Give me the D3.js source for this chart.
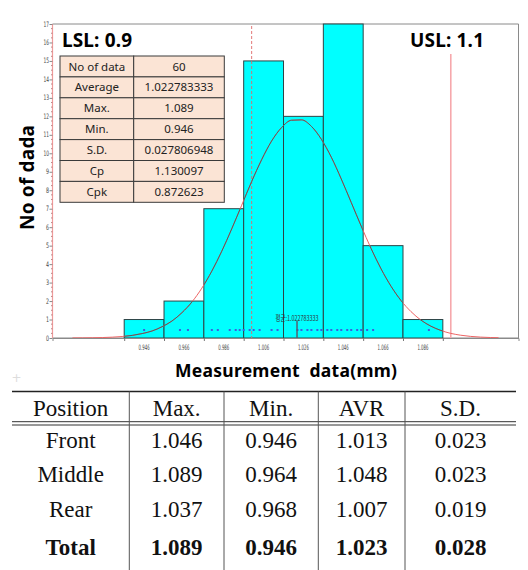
<!DOCTYPE html>
<html>
<head>
<meta charset="utf-8">
<script src="https://cdn.jsdelivr.net/npm/d3@7"></script>
<style>
  body { margin: 0; background: #fff; }
  svg { display: block; }
</style>
</head>
<body>
<script>
// histogram bins (bin edges) and counts
var binEdges = [0.936, 0.956, 0.976, 0.996, 1.016, 1.036, 1.056, 1.076, 1.096];
var counts = [1, 2, 7, 15, 12, 17, 5, 1];
var tickValues = [0.946, 0.966, 0.986, 1.006, 1.026, 1.046, 1.066, 1.086];

// individual measurements shown as dots (distinct values)
var dotValues = [0.946, 0.964, 0.968, 0.980, 0.983, 0.989, 0.992, 0.994, 0.996, 0.999,
  1.001, 1.004, 1.010, 1.013, 1.023, 1.025, 1.028, 1.030, 1.033, 1.035, 1.038, 1.040,
  1.043, 1.045, 1.048, 1.050, 1.053, 1.055, 1.058, 1.061, 1.089];

// fitted curve
var curveX = [0.910, 0.915, 0.920, 0.925, 0.930, 0.935, 0.940, 0.945, 0.950, 0.955, 0.960,
  0.965, 0.970, 0.975, 0.980, 0.985, 0.990, 0.995, 1.000, 1.005, 1.010, 1.015, 1.020,
  1.025, 1.030, 1.035, 1.040, 1.045, 1.050, 1.055, 1.060, 1.065, 1.070, 1.075, 1.080,
  1.085, 1.090, 1.095, 1.100, 1.105, 1.110, 1.115, 1.120, 1.124];
var curveY = [0.003, 0.006, 0.013, 0.024, 0.045, 0.08, 0.14, 0.24, 0.38, 0.61, 0.92,
  1.37, 1.95, 2.70, 3.62, 4.70, 5.91, 7.19, 8.47, 9.65, 10.66, 11.39, 11.79,
  11.81, 11.46, 10.76, 9.79, 8.61, 7.34, 6.06, 4.84, 3.74, 2.80, 2.03, 1.43,
  0.97, 0.64, 0.41, 0.25, 0.15, 0.086, 0.048, 0.026, 0.015];

var lsl = 0.9, usl = 1.1, nominal = 1.0, mean = 1.022783333;

var statLabels = ["No of data", "Average", "Max.", "Min.", "S.D.", "Cp", "Cpk"];
var statValues = ["60", "1.022783333", "1.089", "0.946", "0.027806948", "1.130097", "0.872623"];

var tableHeader = ["Position", "Max.", "Min.", "AVR", "S.D."];
var positions = ["Front", "Middle", "Rear", "Total"];
var maxVals = ["1.046", "1.089", "1.037", "1.089"];
var minVals = ["0.946", "0.964", "0.968", "0.946"];
var avrVals = ["1.013", "1.048", "1.007", "1.023"];
var sdVals = ["0.023", "0.023", "0.019", "0.028"];

var w = 528, h = 570;
var pLeft = 52.5, pRight = 518.5, pTop = 24, pBottom = 338;

var svg = d3.select("body").append("svg")
  .attr("width", w)
  .attr("height", h);

var xScale = d3.scaleLinear().domain([0.9, 1.134]).range([pLeft, pRight]);
var yScale = d3.scaleLinear().domain([0, 17]).range([pBottom, pTop]);

// frame
svg.append("path")
  .attr("d", "M" + pLeft + "," + pTop + "H" + pRight + "V" + pBottom + "H" + pLeft)
  .attr("fill", "none")
  .attr("stroke", "#8a8a8a")
  .attr("stroke-width", 1);

// bars
var bins = counts.map(function(c, i) { return { x0: binEdges[i], x1: binEdges[i + 1], n: c }; });

svg.append("defs").append("clipPath").attr("id", "barclip")
  .selectAll("rect").data(bins).enter().append("rect")
  .attr("x", function(d) { return xScale(d.x0); })
  .attr("y", function(d) { return yScale(d.n); })
  .attr("width", function(d) { return xScale(d.x1) - xScale(d.x0); })
  .attr("height", function(d) { return yScale(0) - yScale(d.n); });

svg.selectAll("rect.bar").data(bins).enter().append("rect")
  .attr("class", "bar")
  .attr("x", function(d) { return xScale(d.x0); })
  .attr("y", function(d) { return yScale(d.n); })
  .attr("width", function(d) { return xScale(d.x1) - xScale(d.x0); })
  .attr("height", function(d) { return yScale(0) - yScale(d.n); })
  .attr("fill", "#00ffff")
  .attr("stroke", "#2e4446")
  .attr("stroke-width", 1);

// spec lines
svg.append("line")
  .attr("x1", xScale(lsl)).attr("x2", xScale(lsl))
  .attr("y1", pTop).attr("y2", pBottom)
  .attr("stroke", "#f09a9a").attr("stroke-width", 1.2);
svg.append("line")
  .attr("x1", xScale(usl)).attr("x2", xScale(usl))
  .attr("y1", 54).attr("y2", pBottom)
  .attr("stroke", "#f6a8ac").attr("stroke-width", 1.6);
svg.append("line")
  .attr("x1", xScale(nominal)).attr("x2", xScale(nominal))
  .attr("y1", pTop + 2).attr("y2", pBottom)
  .attr("stroke", "#e06a6a").attr("stroke-width", 0.9)
  .attr("stroke-dasharray", "3,2");

// fitted curve: red outside bars, dark inside
var pts = curveX.map(function(v, i) { return [v, curveY[i]]; });
var line = d3.line()
  .x(function(d) { return xScale(d[0]); })
  .y(function(d) { return yScale(d[1]); })
  .curve(d3.curveMonotoneX);
svg.append("path").datum(pts)
  .attr("d", line)
  .attr("fill", "none")
  .attr("stroke", "#ee6464")
  .attr("stroke-width", 1);
svg.append("path").datum(pts)
  .attr("d", line)
  .attr("fill", "none")
  .attr("stroke", "#4f5f60")
  .attr("stroke-width", 1)
  .attr("clip-path", "url(#barclip)");

// data dots
svg.selectAll("rect.dot").data(dotValues).enter().append("rect")
  .attr("class", "dot")
  .attr("x", function(d) { return xScale(d) - 1; })
  .attr("y", 329)
  .attr("width", 2).attr("height", 2)
  .attr("fill", "#3a5ee0");

// mean marker
svg.append("line")
  .attr("x1", xScale(mean)).attr("x2", xScale(mean))
  .attr("y1", 321).attr("y2", pBottom)
  .attr("stroke", "#556070").attr("stroke-width", 1.5);
svg.append("text")
  .attr("x", xScale(mean)).attr("y", 320.5)
  .attr("text-anchor", "middle")
  .attr("font-family", "'Noto Sans CJK KR', sans-serif")
  .attr("font-size", 7.5)
  .attr("textLength", 43)
  .attr("lengthAdjust", "spacingAndGlyphs")
  .attr("fill", "#333")
  .text("평균:" + mean);

// x axis ticks and labels
var xAxis = d3.axisBottom(xScale).tickValues(binEdges).tickSize(3).tickFormat("");
var gx = svg.append("g")
  .attr("transform", "translate(0," + pBottom + ")")
  .call(xAxis);
gx.select(".domain").attr("stroke", "#8a8a8a");
gx.selectAll(".tick line").attr("stroke", "#777");

svg.selectAll("text.xlab").data(tickValues).enter().append("text")
  .attr("class", "xlab")
  .attr("x", function(d) { return xScale(d); })
  .attr("y", 350)
  .attr("text-anchor", "middle")
  .attr("font-family", "'DejaVu Sans', sans-serif")
  .attr("font-size", 7.5)
  .attr("textLength", 11)
  .attr("lengthAdjust", "spacingAndGlyphs")
  .attr("fill", "#444")
  .text(d3.format(".3f"));

// y axis
var yAxis = d3.axisLeft(yScale).ticks(17).tickSize(3).tickFormat("");
var gy = svg.append("g")
  .attr("transform", "translate(" + pLeft + ",0)")
  .call(yAxis);
gy.select(".domain").remove();
gy.selectAll(".tick line").attr("stroke", "#888");

var minor = d3.range(0, 17, 0.25).filter(function(d) { return d % 1 !== 0; });
svg.selectAll("line.minor").data(minor).enter().append("line")
  .attr("class", "minor")
  .attr("x1", pLeft - 1.5).attr("x2", pLeft)
  .attr("y1", function(d) { return yScale(d); })
  .attr("y2", function(d) { return yScale(d); })
  .attr("stroke", "#b88");

svg.selectAll("text.ylab").data(yScale.ticks(17)).enter().append("text")
  .attr("class", "ylab")
  .attr("x", pLeft - 3.5)
  .attr("y", function(d) { return yScale(d) + 2.5; })
  .attr("text-anchor", "end")
  .attr("font-family", "'DejaVu Sans', sans-serif")
  .attr("font-size", 7.5)
  .attr("textLength", function(d) { return d < 10 ? 3 : 5.5; })
  .attr("lengthAdjust", "spacingAndGlyphs")
  .attr("fill", "#444")
  .text(function(d) { return d; });

// big labels
svg.append("text")
  .attr("x", 62).attr("y", 47)
  .attr("font-family", "'Noto Sans', sans-serif")
  .attr("font-weight", "bold")
  .attr("font-size", 19)
  .attr("textLength", 70)
  .attr("lengthAdjust", "spacing")
  .text("LSL: " + lsl);
svg.append("text")
  .attr("x", 410).attr("y", 47)
  .attr("font-family", "'Noto Sans', sans-serif")
  .attr("font-weight", "bold")
  .attr("font-size", 19)
  .attr("textLength", 74)
  .attr("lengthAdjust", "spacing")
  .text("USL: " + usl.toFixed(1));

svg.append("text")
  .attr("transform", "translate(34,230) rotate(-90)")
  .attr("font-family", "'Noto Sans', sans-serif")
  .attr("font-weight", "bold")
  .attr("font-size", 19)
  .attr("textLength", 105)
  .attr("lengthAdjust", "spacing")
  .text("No of dada");

svg.append("text")
  .attr("x", 175).attr("y", 377)
  .attr("font-family", "'Noto Sans', sans-serif")
  .attr("font-weight", "bold")
  .attr("font-size", 17.5)
  .attr("textLength", 222)
  .attr("lengthAdjust", "spacing")
  .style("white-space", "pre")
  .text("Measurement  data(mm)");

// stats box
var sx0 = 60, sx1 = 133.7, sx2 = 224.3, sy0 = 56, rowH = 20.9;
var sRows = svg.append("g").selectAll("g").data(statLabels).enter().append("g")
  .attr("transform", function(d, i) { return "translate(0," + (sy0 + i * rowH) + ")"; });
sRows.append("rect")
  .attr("x", sx0).attr("width", sx1 - sx0).attr("height", rowH)
  .attr("fill", "#fbe4d5").attr("stroke", "#3a3a3a").attr("stroke-width", 1);
sRows.append("rect")
  .attr("x", sx1).attr("width", sx2 - sx1).attr("height", rowH)
  .attr("fill", "#fbe4d5").attr("stroke", "#3a3a3a").attr("stroke-width", 1);
sRows.append("text")
  .attr("x", (sx0 + sx1) / 2).attr("y", 14.5)
  .attr("text-anchor", "middle")
  .attr("font-family", "'Noto Sans', sans-serif")
  .attr("font-size", 11.5)
  .attr("fill", "#222")
  .text(function(d) { return d; });
sRows.append("text")
  .attr("x", (sx1 + sx2) / 2).attr("y", 14.5)
  .attr("text-anchor", "middle")
  .attr("font-family", "'Noto Sans', sans-serif")
  .attr("font-size", 11.5)
  .attr("fill", "#222")
  .text(function(d, i) { return statValues[i]; });

// small plus mark
svg.append("text")
  .attr("x", 16.5).attr("y", 382)
  .attr("text-anchor", "middle")
  .attr("font-family", "'DejaVu Sans', sans-serif")
  .attr("font-size", 12)
  .attr("fill", "#ddd")
  .text("+");

// bottom table
var colEdges = [12, 129.3, 224, 318.3, 405, 516];
var colCenters = colEdges.slice(0, 5).map(function(e, i) { return (e + colEdges[i + 1]) / 2; });
var rowBase = [448.3, 482, 516.7, 555];

svg.append("line").attr("x1", 12).attr("x2", 516).attr("y1", 391.5).attr("y2", 391.5)
  .attr("stroke", "#222").attr("stroke-width", 1.6);
[421.7, 425].forEach(function(yy) {
  svg.append("line").attr("x1", 12).attr("x2", 516).attr("y1", yy).attr("y2", yy)
    .attr("stroke", "#333").attr("stroke-width", 1);
});
colEdges.slice(1, 5).forEach(function(xx) {
  svg.append("line").attr("x1", xx).attr("x2", xx).attr("y1", 391.5).attr("y2", h)
    .attr("stroke", "#555").attr("stroke-width", 1);
});

svg.selectAll("text.th").data(tableHeader).enter().append("text")
  .attr("class", "th")
  .attr("x", function(d, i) { return colCenters[i]; })
  .attr("y", 416)
  .attr("text-anchor", "middle")
  .attr("font-family", "'Liberation Serif', serif")
  .attr("font-size", 23)
  .attr("fill", "#111")
  .text(function(d) { return d; });

var tRows = positions.map(function(p, i) { return [p, maxVals[i], minVals[i], avrVals[i], sdVals[i]]; });
tRows.forEach(function(r, ri) {
  svg.selectAll("text.r" + ri).data(r).enter().append("text")
    .attr("class", "r" + ri)
    .attr("x", function(d, i) { return colCenters[i]; })
    .attr("y", rowBase[ri])
    .attr("text-anchor", "middle")
    .attr("font-family", "'Liberation Serif', serif")
    .attr("font-size", 23)
    .attr("font-weight", ri === 3 ? "bold" : "normal")
    .attr("fill", "#111")
    .text(function(d) { return d; });
});
</script>
</body>
</html>
